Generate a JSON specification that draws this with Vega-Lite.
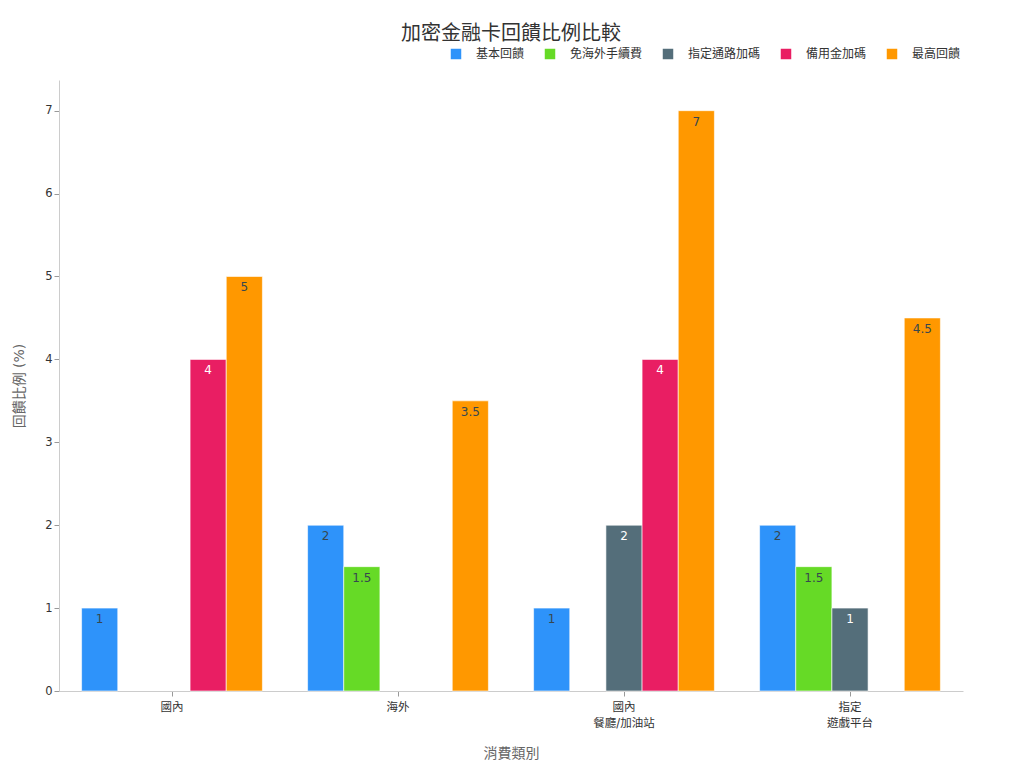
{
  "$schema": "https://vega.github.io/schema/vega-lite/v6.json",
  "width": 904,
  "height": 611,
  "autosize": {"type": "none"},
  "padding": {"left": 59, "top": 80, "right": 61, "bottom": 77},
  "title": {
    "text": "加密金融卡回饋比例比較",
    "fontSize": 20,
    "fontWeight": "normal",
    "color": "#333333",
    "anchor": "middle",
    "offset": 4
  },
  "data": {
    "values": [
      {"category": "國內", "series": "基本回饋", "value": 1},
      {"category": "國內", "series": "備用金加碼", "value": 4},
      {"category": "國內", "series": "最高回饋", "value": 5},
      {"category": "海外", "series": "基本回饋", "value": 2},
      {"category": "海外", "series": "免海外手續費", "value": 1.5},
      {"category": "海外", "series": "最高回饋", "value": 3.5},
      {"category": "國內|餐廳/加油站", "series": "基本回饋", "value": 1},
      {"category": "國內|餐廳/加油站", "series": "指定通路加碼", "value": 2},
      {"category": "國內|餐廳/加油站", "series": "備用金加碼", "value": 4},
      {"category": "國內|餐廳/加油站", "series": "最高回饋", "value": 7},
      {"category": "指定|遊戲平台", "series": "基本回饋", "value": 2},
      {"category": "指定|遊戲平台", "series": "免海外手續費", "value": 1.5},
      {"category": "指定|遊戲平台", "series": "指定通路加碼", "value": 1},
      {"category": "指定|遊戲平台", "series": "最高回饋", "value": 4.5}
    ]
  },
  "encoding": {
    "x": {
      "field": "category",
      "type": "nominal",
      "sort": null,
      "title": "消費類別",
      "scale": {"paddingInner": 0.2, "paddingOuter": 0.1},
      "axis": {
        "labelAngle": 0,
        "labelExpr": "split(datum.label, '|')",
        "labelLineHeight": 16,
        "labelPadding": 5,
        "titlePadding": 18
      }
    },
    "xOffset": {
      "field": "series",
      "type": "nominal",
      "scale": {"domain": ["基本回饋", "免海外手續費", "指定通路加碼", "備用金加碼", "最高回饋"]}
    },
    "y": {
      "field": "value",
      "type": "quantitative",
      "title": "回饋比例 (%)",
      "scale": {"domain": [0, 7.37], "nice": false},
      "axis": {"values": [0, 1, 2, 3, 4, 5, 6, 7], "grid": false, "titlePadding": 18}
    }
  },
  "layer": [
    {
      "mark": {"type": "bar", "stroke": "#ffffff", "strokeWidth": 1, "strokeOpacity": 0.6},
      "encoding": {
        "color": {
          "field": "series",
          "type": "nominal",
          "title": null,
          "scale": {
            "domain": ["基本回饋", "免海外手續費", "指定通路加碼", "備用金加碼", "最高回饋"],
            "range": ["#2E93FA", "#66DA26", "#546E7A", "#E91E63", "#FF9800"]
          },
          "legend": {
            "orient": "none",
            "direction": "horizontal",
            "legendX": 391,
            "legendY": -32,
            "symbolType": "square",
            "symbolSize": 110,
            "symbolStrokeWidth": 0,
            "labelFontSize": 12,
            "labelColor": "#333333",
            "columnPadding": 19,
            "labelOffset": 14
          }
        }
      }
    },
    {
      "mark": {"type": "text", "baseline": "top", "dy": 6, "fontSize": 12},
      "encoding": {
        "text": {"field": "value", "type": "quantitative"},
        "color": {
          "condition": {
            "test": "datum.series == '指定通路加碼' || datum.series == '備用金加碼'",
            "value": "#ffffff"
          },
          "value": "#37474F"
        }
      }
    }
  ],
  "config": {
    "font": "DejaVu Sans, Noto Sans CJK TC",
    "view": {"stroke": null},
    "axis": {
      "domainColor": "#cccccc",
      "tickColor": "#999999",
      "labelColor": "#333333",
      "labelFontSize": 11.5,
      "titleColor": "#666666",
      "titleFontSize": 14,
      "titleFontWeight": "normal"
    },
    "legend": {"labelFont": "DejaVu Sans, Noto Sans CJK TC"}
  }
}
